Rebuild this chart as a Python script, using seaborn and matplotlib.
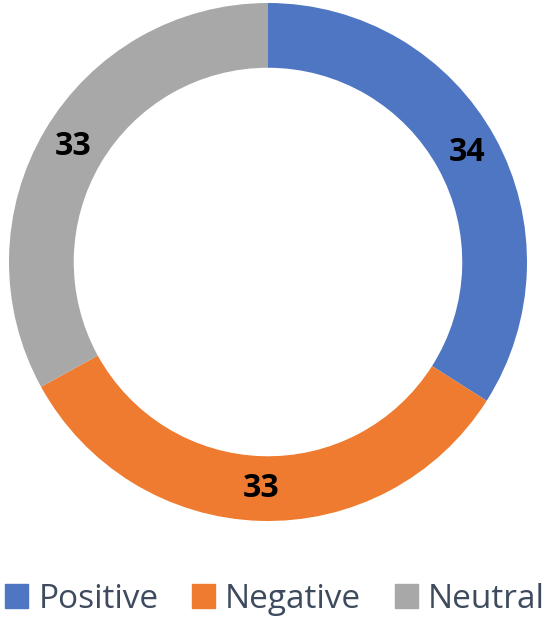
import matplotlib
matplotlib.use("Agg")
import matplotlib.pyplot as plt
import seaborn as sns
import numpy as np
from matplotlib.patches import Patch

categories = ["Positive", "Negative", "Neutral"]
values = [34, 33, 33]
colors = ["#4F76C2", "#EE7B2F", "#A8A8A8"]

sns.set_theme(style="white")
plt.rcParams['font.family'] = ['Open Sans', 'DejaVu Sans']

fig = plt.figure(figsize=(5.5, 6.21), dpi=100)
ax = fig.add_axes([9/550, (621-521)/621, 518/550, 518/621])
wedges, texts = ax.pie(values, colors=colors, startangle=90, counterclock=False,
                       radius=1.0, wedgeprops=dict(width=0.25, linewidth=0))
tot = sum(values)
cum = 0
for v in values:
    mid = 90 - (cum + v/2)/tot*360
    r = 0.875
    ax.text(r*np.cos(np.radians(mid)), r*np.sin(np.radians(mid)), str(v),
            ha="center", va="center", fontsize=23, fontweight="bold", color="black")
    cum += v
ax.set_xlim(-1, 1)
ax.set_ylim(-1, 1)
ax.set_aspect("equal")
ax.axis("off")

handles = [Patch(facecolor=c, edgecolor=c) for c in colors]
leg = fig.legend(handles, categories, ncol=3, loc="center", bbox_to_anchor=(0.5, (621-599)/621),
                 frameon=False, fontsize=24, handlelength=0.7, handleheight=0.7,
                 handletextpad=0.3, columnspacing=1.0, labelcolor="#3E4B5E",
                 borderpad=0, borderaxespad=0)
fig.savefig("out.png", dpi=100)
